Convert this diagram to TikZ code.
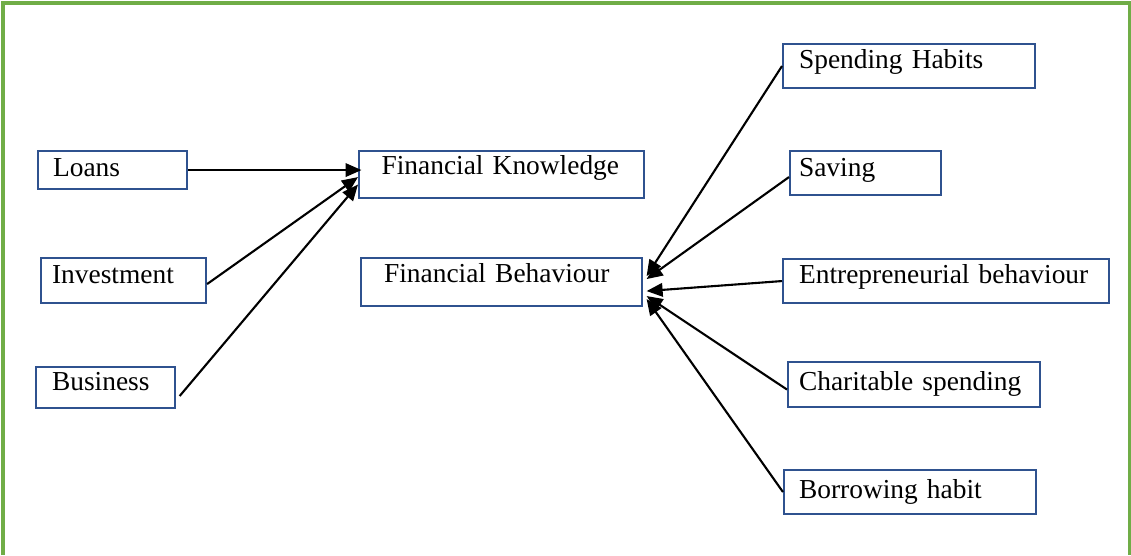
\documentclass[tikz,border=0pt]{standalone}
\usepackage{fontspec}
\setmainfont{Liberation Serif}
\usetikzlibrary{positioning}
\usetikzlibrary{arrows.meta}

\definecolor{boxblue}{RGB}{47,82,143}
\definecolor{framegreen}{RGB}{112,173,71}

\begin{document}
\begin{tikzpicture}[>={Triangle[length=3.2mm,width=2.7mm]},
    every node/.style={font=\fontsize{15.6}{18}\selectfont},
    box/.style={draw=boxblue, line width=1.2pt, anchor=north west, align=left,
                inner ysep=0pt, text height=0.5cm, text depth=0.38cm},
    link/.style={->, line width=1.2pt}]

      \useasboundingbox (0,0) rectangle (22.62,-11.10);

      % Rahmen (unten offen)
      \draw[framegreen, line width=2pt] (0.06,-11.10) |- (22.59,-0.06) -- (22.59,-11.10);

      % Kaesten links
      \node[box, text width=2.38cm, inner xsep=0.30cm, text depth=0.26cm] (loans) at (0.74,-3.00) {Loans};
      \node[box, text width=2.86cm, inner xsep=0.22cm, text depth=0.40cm] (inv) at (0.80,-5.14) {Investment};
      \node[box, text width=2.14cm, inner xsep=0.32cm, text height=0.46cm, text depth=0.36cm] (bus) at (0.70,-7.32) {Business};

      % Kaesten Mitte
      \node[box, text width=4.80cm, inner xsep=0.45cm, text height=0.46cm, text depth=0.48cm] (fk) at (7.16,-3.00) {Financial Knowledge};
      \node[box, text width=4.70cm, inner xsep=0.46cm, text height=0.48cm, text depth=0.48cm] (fb) at (7.20,-5.14) {Financial Behaviour};

      % Kaesten rechts
      \node[box, text width=4.40cm, inner xsep=0.32cm, text height=0.48cm, text depth=0.40cm] (spend) at (15.64,-0.86) {Spending Habits};
      \node[box, text width=2.66cm, inner xsep=0.18cm] (save) at (15.78,-3.00) {Saving};
      \node[box, text width=5.88cm, inner xsep=0.32cm, text height=0.48cm, text depth=0.40cm] (entre) at (15.64,-5.16) {Entrepreneurial behaviour};
      \node[box, text width=4.60cm, inner xsep=0.22cm, text height=0.56cm, text depth=0.34cm] (charity) at (15.74,-7.22) {Charitable spending};
      \node[box, text width=4.44cm, inner xsep=0.30cm, text height=0.56cm, text depth=0.32cm] (borrow) at (15.66,-9.38) {Borrowing habit};

      % Pfeile zu Financial Knowledge
      \draw[link] (loans.east) -- ([xshift=2pt]loans.east -| fk.west);
      \draw[link] ([yshift=-0.07cm]inv.east) -- ([yshift=-0.05cm]fk.west);
      \draw[link] ([xshift=2pt,yshift=-0.17cm]bus.east) -- ([yshift=-0.20cm]fk.west);

      % Pfeile zu Financial Behaviour
      \draw[link] (spend.west) -- ([xshift=2pt,yshift=0.12cm]fb.east);
      \draw[link] ([yshift=-0.08cm]save.west) -- ([xshift=2pt,yshift=0.06cm]fb.east);
      \draw[link] (entre.west) -- ([xshift=2pt,yshift=-0.18cm]fb.east);
      \draw[link] ([yshift=-0.10cm]charity.west) -- ([xshift=2pt,yshift=-0.28cm]fb.east);
      \draw[link] (borrow.west) -- ([xshift=2pt,yshift=-0.34cm]fb.east);
\end{tikzpicture}
\end{document}
